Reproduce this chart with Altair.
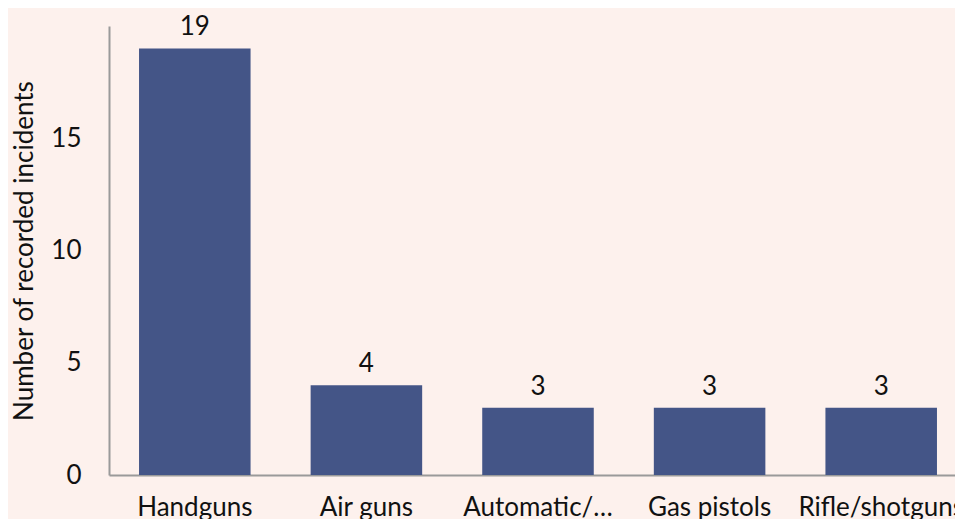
import altair as alt
import pandas as pd

categories = ["Handguns", "Air guns", "Automatic/…", "Gas pistols", "Rifle/shotguns"]
counts = [19, 4, 3, 3, 3]
y_ticks = [0, 5, 10, 15]

df = pd.DataFrame({"category": categories, "count": counts})

FONT = "Lato"
FS = 26

x = alt.X(
    "category:N",
    sort=categories,
    title=None,
    scale=alt.Scale(paddingInner=0.35, paddingOuter=0.175),
    axis=alt.Axis(
        labelAngle=0,
        labelFont=FONT,
        labelFontSize=FS,
        labelColor="#111111",
        labelPadding=19,
        ticks=False,
        domainColor="#9a9a9a",
        domainWidth=2,
        grid=False,
        labelLimit=400,
    ),
)
y = alt.Y(
    "count:Q",
    title="Number of recorded incidents",
    scale=alt.Scale(domain=[0, 20], nice=False),
    axis=alt.Axis(
        values=y_ticks,
        labelFont=FONT,
        labelFontSize=FS,
        labelColor="#111111",
        labelPadding=28,
        ticks=False,
        domainColor="#9a9a9a",
        domainWidth=2,
        grid=False,
        titleFont=FONT,
        titleFontSize=FS,
        titleFontWeight="normal",
        titleColor="#111111",
        titlePadding=13,
    ),
)

bars = alt.Chart(df).mark_bar(color="#445587").encode(x=x, y=y)
labels = alt.Chart(df).mark_text(
    baseline="bottom", dy=-8, font=FONT, fontSize=FS, color="#111111"
).encode(x=alt.X("category:N", sort=categories), y="count:Q", text="count:Q")

chart = (
    alt.layer(bars, labels)
    .properties(
        width=858,
        height=449,
        background="#fdf1ed",
        padding={"left": 101, "top": 18, "right": -12, "bottom": 44},
        autosize=alt.AutoSizeParams(type="none"),
    )
    .configure_view(stroke=None)
)

chart.save("out.html", embed_options={"renderer": "svg", "actions": False})
